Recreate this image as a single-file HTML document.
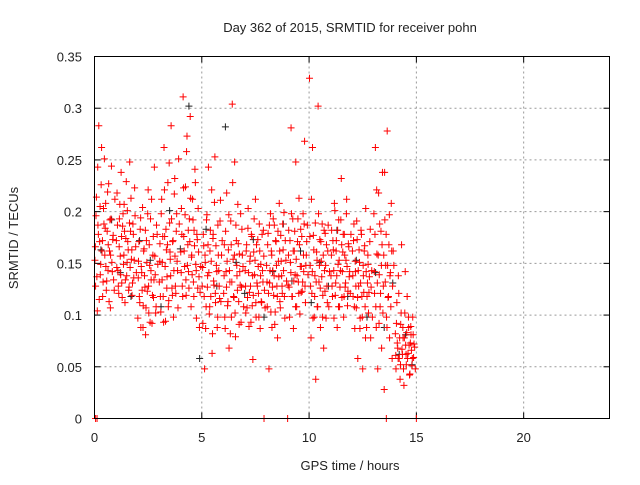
<!DOCTYPE html>
<html><head><meta charset="utf-8"><style>
body{margin:0;background:#fff}
svg text{font-family:"Liberation Sans",sans-serif;font-size:13px;fill:#222}
</style></head><body>
<svg id="chart" width="640" height="480" xmlns="http://www.w3.org/2000/svg">
<rect width="640" height="480" fill="#fff"/>
<text x="350" y="32" text-anchor="middle">Day 362 of 2015, SRMTID for receiver pohn</text>
<text x="350" y="470" text-anchor="middle">GPS time / hours</text>
<text transform="translate(18,238) rotate(-90)" text-anchor="middle">SRMTID / TECUs</text>
<g id="grid"></g>
<g id="ticks"></g>
<g id="marks"></g>
<rect x="94.5" y="56.5" width="515" height="362" fill="none" stroke="#000" stroke-width="1"/>
</svg>
<script>
const xTicks=[0,5,10,15,20];
const yTicks=[0,0.05,0.1,0.15,0.2,0.25,0.3,0.35];
const yTickLabels=["0","0.05","0.1","0.15","0.2","0.25","0.3","0.35"];
const hourOffsetsA=[.02,.05,.09,.13,.16,.2,.24,.27,.31,.35,.38,.42,.46,.5,.53,.57,.61,.64,.68,.72,.75,.79,.83,.87,.92];
const hourOffsetsB=[.04,.07,.11,.15,.18,.22,.26,.29,.33,.37,.40,.44,.48,.52,.55,.59,.63,.66,.70,.74,.77,.81,.85,.89,.95];
const redA=[
[.153,.128,.214,.104,.187,.283,.171,.139,.226,.162,.118,.203,.251,.184,.147,.133,.219,.168,.113,.192,.158,.244,.142,.177,.124],
[.172,.218,.143,.121,.193,.157,.238,.131,.186,.149,.207,.112,.174,.138,.201,.163,.127,.248,.181,.154,.119,.188,.136,.223,.166],
[.097,.152,.118,.183,.088,.141,.204,.109,.164,.127,.081,.172,.123,.221,.102,.148,.193,.134,.092,.158,.117,.243,.139,.108,.178],
[.132,.169,.103,.212,.151,.118,.262,.176,.094,.163,.137,.228,.114,.189,.154,.283,.126,.171,.098,.217,.157,.121,.198,.143,.251],
[.161,.203,.128,.311,.176,.147,.224,.119,.273,.168,.142,.193,.292,.108,.158,.212,.132,.182,.241,.149,.097,.173,.203,.137,.122],
[.128,.092,.167,.048,.151,.108,.197,.138,.243,.101,.162,.118,.221,.082,.178,.129,.253,.112,.148,.088,.187,.143,.116,.211,.158],
[.121,.168,.087,.142,.218,.109,.163,.068,.132,.191,.098,.304,.154,.117,.248,.079,.172,.138,.207,.113,.159,.129,.093,.183,.147],
[.143,.102,.168,.117,.203,.089,.152,.128,.178,.109,.057,.161,.139,.212,.098,.131,.173,.121,.188,.087,.149,.112,.143,.182,.124],
[.148,.108,.179,.048,.131,.198,.162,.088,.143,.119,.187,.103,.171,.128,.078,.152,.208,.113,.177,.138,.121,.163,.199,.097,.153],
[.129,.182,.098,.151,.281,.118,.193,.087,.162,.139,.248,.108,.171,.132,.213,.101,.183,.147,.123,.198,.142,.268,.112,.158,.187],
[.329,.148,.078,.121,.262,.177,.098,.138,.038,.161,.108,.302,.132,.173,.088,.152,.188,.119,.068,.143,.179,.097,.128,.162,.108],
[.138,.182,.118,.163,.097,.201,.131,.172,.088,.149,.192,.108,.143,.232,.117,.161,.098,.178,.127,.153,.212,.109,.169,.137,.121],
[.162,.118,.188,.087,.142,.107,.173,.058,.128,.151,.097,.182,.118,.048,.138,.162,.108,.203,.088,.131,.149,.122,.171,.078,.143],
[.198,.121,.262,.088,.159,.048,.218,.139,.108,.181,.068,.238,.128,.028,.192,.148,.098,.278,.117,.168,.078,.141,.208,.058,.162],
[.082,.048,.112,.068,.138,.058,.038,.091,.168,.062,.078,.032,.102,.071,.052,.118,.063,.088,.042,.073,.081,.051,.098,.059,.069]
];
const redB=[
[.166,.196,.137,.243,.178,.115,.205,.149,.262,.172,.132,.188,.158,.208,.124,.181,.143,.227,.162,.107,.193,.151,.173,.134,.212],
[.146,.187,.128,.166,.207,.139,.176,.117,.198,.158,.181,.134,.229,.151,.171,.124,.189,.146,.213,.163,.131,.178,.153,.196,.141],
[.136,.171,.112,.194,.147,.124,.088,.162,.138,.182,.107,.151,.198,.128,.168,.093,.143,.212,.119,.176,.134,.157,.102,.187,.149],
[.152,.118,.198,.134,.176,.093,.221,.147,.183,.126,.168,.108,.247,.161,.138,.193,.119,.172,.143,.232,.128,.181,.152,.107,.188],
[.141,.178,.118,.223,.162,.197,.134,.258,.148,.182,.126,.171,.213,.156,.139,.192,.118,.167,.228,.143,.178,.126,.161,.088,.147],
[.146,.178,.118,.158,.087,.192,.127,.168,.141,.108,.182,.152,.063,.174,.133,.209,.121,.167,.142,.098,.158,.128,.191,.113,.172],
[.138,.098,.181,.127,.152,.113,.197,.143,.082,.168,.132,.228,.118,.158,.102,.187,.148,.124,.169,.091,.142,.198,.127,.158,.108],
[.128,.162,.107,.184,.141,.122,.157,.093,.176,.138,.119,.193,.153,.112,.168,.128,.147,.098,.162,.138,.113,.178,.132,.157,.107],
[.132,.168,.121,.187,.143,.103,.158,.127,.193,.138,.091,.172,.148,.118,.181,.137,.162,.107,.152,.128,.188,.143,.118,.172,.133],
[.158,.127,.172,.141,.198,.118,.162,.133,.181,.108,.154,.138,.193,.121,.168,.147,.122,.176,.132,.158,.188,.128,.148,.171,.139],
[.176,.128,.212,.142,.097,.163,.118,.189,.132,.153,.108,.198,.148,.126,.171,.137,.098,.158,.182,.123,.148,.168,.112,.187,.142],
[.158,.128,.172,.143,.208,.119,.162,.138,.182,.108,.153,.127,.192,.168,.142,.178,.118,.158,.131,.198,.147,.123,.166,.142,.178],
[.138,.172,.108,.152,.128,.191,.117,.143,.163,.087,.131,.178,.098,.148,.122,.167,.078,.142,.118,.158,.102,.137,.183,.127,.098],
[.142,.178,.108,.221,.131,.158,.092,.188,.121,.148,.168,.102,.158,.238,.132,.178,.088,.148,.118,.197,.138,.108,.162,.128,.148],
[.061,.092,.073,.058,.121,.078,.052,.102,.067,.088,.048,.078,.142,.062,.083,.058,.098,.071,.043,.089,.066,.058,.081,.072,.048]
];
const blackTimes=[0.3,0.8,1.2,1.7,2.1,2.6,3.1,3.5,4.0,4.4,4.9,5.2,5.7,6.1,6.6,7.0,7.4,7.9,8.3,8.8,9.2,9.6,10.1,10.5,10.9,11.3,11.8,12.2,12.7,13.1,13.5,13.9,14.2,14.5,14.8];
const blackValues=[.163,.192,.141,.118,.172,.153,.108,.201,.164,.302,.058,.183,.128,.282,.151,.121,.173,.098,.142,.188,.133,.162,.112,.151,.128,.182,.118,.153,.098,.141,.088,.131,.062,.081,.052];
const zeroTimes=[0.05,0.12,7.9,9.0,13.6,15.0];
const zeroValues=[0,0,0,0,0,0];

const X0=94.5,X1=609.5,Y0=418.5,Y1=56.5;
const sx=t=>X0+t/24*(X1-X0);
const sy=v=>Y0-v/0.35*(Y0-Y1);
const NS="http://www.w3.org/2000/svg";
const grid=document.getElementById('grid'),ticks=document.getElementById('ticks'),marks=document.getElementById('marks');
function mk(tag,attrs,parent){const e=document.createElementNS(NS,tag);for(const k in attrs)e.setAttribute(k,attrs[k]);parent.appendChild(e);return e;}
xTicks.forEach(t=>{
  const x=sx(t);
  if(t>0){const g=mk('line',{x1:x,x2:x,y1:Y0,y2:Y1,stroke:'#999','stroke-dasharray':'2,3'},grid);
  
  }
  mk('line',{x1:x,x2:x,y1:Y0,y2:Y0-6,stroke:'#000'},ticks);
  mk('line',{x1:x,x2:x,y1:Y1,y2:Y1+6,stroke:'#000'},ticks);
  const l=mk('text',{x:x,y:442,'text-anchor':'middle'},ticks);l.textContent=String(t);
  
  
});
yTicks.forEach((v,i)=>{
  const y=sy(v);
  if(v>0&&v<0.35){const g=mk('line',{x1:X0,x2:X1,y1:y,y2:y,stroke:'#999','stroke-dasharray':'2,3'},grid);
  
  }
  mk('line',{x1:X0,x2:X0+6,y1:y,y2:y,stroke:'#000'},ticks);
  mk('line',{x1:X1,x2:X1-6,y1:y,y2:y,stroke:'#000'},ticks);
  const l=mk('text',{x:82,y:y+5,'text-anchor':'end'},ticks);l.textContent=yTickLabels[i];
  
  
});
function plus(t,v,color,name){
  const x=sx(t),y=sy(v);
  const p=mk('path',{d:`M${x-3.5},${y}H${x+3.5}M${x},${y-3.5}V${y+3.5}`,stroke:color,'stroke-width':1,fill:'none'},marks);
  
  
}
blackTimes.forEach((t,i)=>plus(t,blackValues[i],'#222','point-black'));
redA.forEach((vals,h)=>vals.forEach((v,k)=>plus(h+hourOffsetsA[k],v,'#f00','point-red')));
redB.forEach((vals,h)=>vals.forEach((v,k)=>plus(h+hourOffsetsB[k],v,'#f00','point-red')));
zeroTimes.forEach((t,i)=>plus(t,zeroValues[i],'#f00','point-zero'));
</script>
</body></html>
